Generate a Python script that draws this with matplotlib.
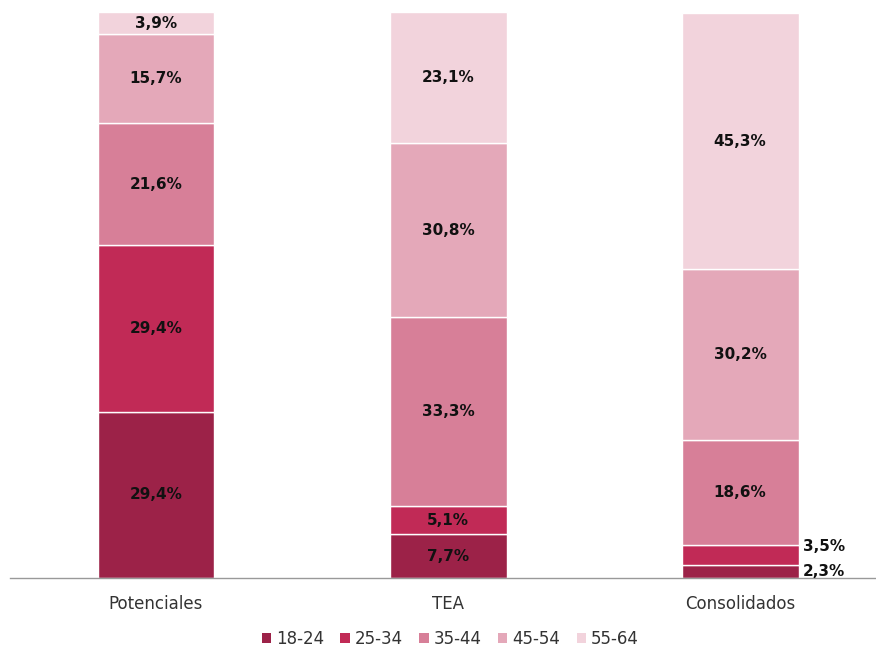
import matplotlib
matplotlib.use("Agg")
import matplotlib.pyplot as plt
from matplotlib.patches import Patch
import numpy as np

plt.rcParams['font.family'] = ['DejaVu Sans']

categories = ["Potenciales", "TEA", "Consolidados"]
age_groups = ["18-24", "25-34", "35-44", "45-54", "55-64"]
values = {
    "18-24": [29.4, 7.7, 2.3],
    "25-34": [29.4, 5.1, 3.5],
    "35-44": [21.6, 33.3, 18.6],
    "45-54": [15.7, 30.8, 30.2],
    "55-64": [3.9, 23.1, 45.3],
}
colors = ["#9C2248", "#C12A56", "#D77F98", "#E4A8B9", "#F2D3DC"]

fig = plt.figure(figsize=(8.76, 6.48), dpi=100)
ax = fig.add_axes([0.0114, 0.108, 0.9886, 0.873])

x = np.arange(len(categories))
width = 0.4
bottom = np.zeros(len(categories))
for g, c in zip(age_groups, colors):
    v = np.array(values[g])
    ax.bar(x, v, width, bottom=bottom, color=c, edgecolor="white", linewidth=1.0)
    for i, (b, val) in enumerate(zip(bottom, v)):
        label = f"{val:.1f}%".replace(".", ",")
        if val < 5 and categories[i] == "Consolidados":
            yoff = {"18-24": 1.2, "25-34": 5.5}[g]
            ax.text(x[i] + width / 2 + 0.015, yoff, label, ha="left", va="center",
                    fontsize=11, fontweight="bold", color="#111111")
        else:
            ax.text(x[i], b + val / 2, label, ha="center", va="center",
                    fontsize=11, fontweight="bold", color="#111111")
    bottom += v

ax.set_xlim(-0.5, 2.465)
ax.set_ylim(0, 100)
ax.set_yticks([])
ax.set_xticks(x)
ax.set_xticklabels(categories, fontsize=12, color="#333333")
ax.tick_params(axis="x", length=0, pad=12)
for s in ["top", "right", "left"]:
    ax.spines[s].set_visible(False)
ax.spines["bottom"].set_color("#999999")
ax.spines["bottom"].set_linewidth(1.0)

handles = [Patch(facecolor=c, edgecolor="none") for c in colors]
fig.legend(handles, age_groups, loc="center", bbox_to_anchor=(0.514, 0.014),
           ncol=5, frameon=False, fontsize=12, handlelength=0.55, handleheight=0.55,
           handletextpad=0.3, columnspacing=1.0, labelcolor="#333333")

fig.savefig("out.png", dpi=100)
